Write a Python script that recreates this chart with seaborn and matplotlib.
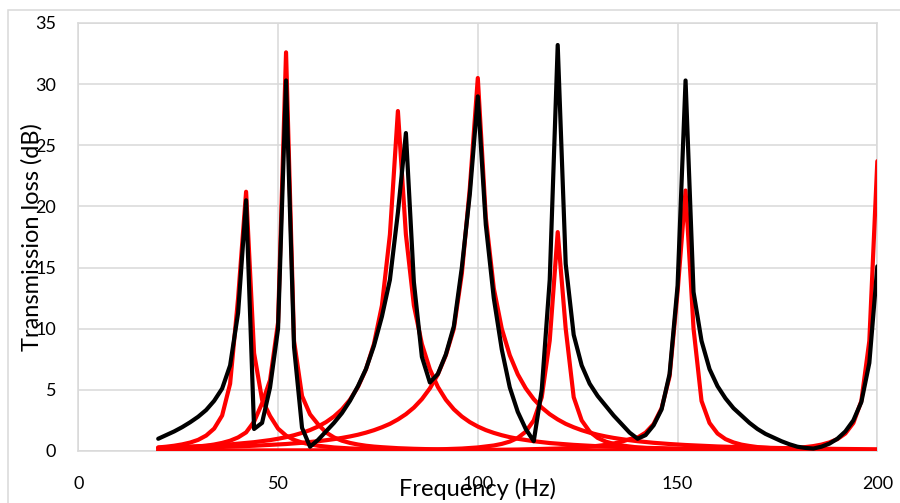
import matplotlib
matplotlib.use("Agg")
import matplotlib.pyplot as plt
import seaborn as sns
import pandas as pd
from matplotlib.patches import Rectangle

# ---------------- data ----------------
freq = list(range(20, 201, 2))

tl_black = [1.0, 1.3, 1.6, 1.95, 2.35, 2.8, 3.35, 4.1, 5.1, 7.0, 11.3, 20.5,
            1.8, 2.3, 5.2, 10.0, 30.3, 8.5, 1.9, 0.35, 0.9, 1.6, 2.3, 3.1,
            4.1, 5.3, 6.7, 8.6, 11.0, 14.0, 19.5, 26.0, 13.8, 7.7, 5.6, 6.3,
            7.9, 10.2, 15.0, 21.0, 29.0, 18.5, 12.5, 8.3, 5.2, 3.2, 1.8, 0.8,
            5.0, 14.0, 33.2, 15.3, 9.5, 7.0, 5.5, 4.5, 3.7, 2.9, 2.2, 1.5,
            1.0, 1.3, 2.1, 3.4, 6.3, 13.5, 30.3, 13.0, 9.0, 6.7, 5.3, 4.3,
            3.5, 2.9, 2.3, 1.8, 1.4, 1.1, 0.8, 0.55, 0.35, 0.25, 0.2, 0.35,
            0.6, 1.0, 1.6, 2.5, 4.0, 7.2, 15.1]

f_r1 = [20, 22, 24, 26, 28, 30, 32, 34, 36, 38, 40, 42, 44, 46, 48, 50, 52, 54,
        56, 58, 60, 64, 68, 74, 80, 90, 100, 120, 150, 200]
tl_r1 = [0.29, 0.35, 0.43, 0.54, 0.69, 0.91, 1.26, 1.83, 2.9, 5.5, 12.5, 21.2,
         8.0, 4.2, 2.86, 1.83, 1.26, 0.91, 0.69, 0.54, 0.43, 0.29, 0.21, 0.14,
         0.10, 0.06, 0.04, 0.02, 0.01, 0.01]

f_r2 = [20, 24, 28, 32, 34, 36, 38, 40, 42, 44, 46, 48, 50, 52, 54, 56, 58, 60,
        62, 64, 66, 68, 70, 72, 74, 76, 80, 84, 90, 100, 110, 120, 140, 160, 200]
tl_r2 = [0.18, 0.23, 0.31, 0.43, 0.53, 0.66, 0.84, 1.11, 1.52, 2.4, 3.9, 5.8,
         10.5, 32.6, 9.0, 4.5, 3.0, 2.19, 1.52, 1.11, 0.84, 0.66, 0.53, 0.43,
         0.36, 0.31, 0.23, 0.18, 0.13, 0.08, 0.05, 0.04, 0.02, 0.02, 0.01]

f_r3 = [20, 26, 32, 38, 44, 48, 50, 52, 54, 56, 58, 60, 62, 64, 66, 68, 70, 72,
        74, 76, 78, 80, 82, 84, 86, 88, 90, 92, 94, 96, 98, 100, 102, 104, 106,
        108, 110, 114, 118, 124, 130, 140, 150, 160, 170, 180, 190, 200]
tl_r3 = [0.27, 0.335, 0.42, 0.54, 0.72, 0.89, 1.0, 1.13, 1.29, 1.48, 1.71, 2.0,
         2.36, 2.82, 3.41, 4.19, 5.24, 6.68, 8.75, 11.9, 17.7, 27.8, 17.7, 11.9,
         8.75, 6.68, 5.24, 4.19, 3.41, 2.82, 2.36, 2.0, 1.71, 1.48, 1.29, 1.13,
         1.0, 0.80, 0.65, 0.50, 0.39, 0.27, 0.20, 0.156, 0.124, 0.10, 0.083, 0.07]

f_r4 = [20, 28, 36, 44, 52, 56, 60, 62, 64, 66, 68, 70, 72, 74, 76, 78, 80, 82,
        84, 86, 88, 90, 92, 94, 96, 98, 100, 102, 104, 106, 108, 110, 112, 114,
        116, 118, 120, 122, 124, 126, 128, 130, 132, 134, 136, 138, 140, 144,
        148, 152, 156, 160, 168, 176, 190, 200]
tl_r4 = [0.21, 0.26, 0.33, 0.43, 0.57, 0.67, 0.80, 0.88, 0.97, 1.07, 1.19, 1.33,
         1.50, 1.70, 1.94, 2.22, 2.58, 3.01, 3.55, 4.24, 5.12, 6.27, 7.83, 10.0,
         14.5, 21.5, 30.5, 19.1, 13.3, 10.0, 7.83, 6.27, 5.12, 4.24, 3.55, 3.01,
         2.58, 2.22, 1.94, 1.70, 1.50, 1.33, 1.19, 1.07, 0.97, 0.88, 0.80, 0.67,
         0.57, 0.49, 0.43, 0.37, 0.29, 0.24, 0.17, 0.14]

f_r5 = [20, 60, 80, 90, 96, 100, 104, 106, 108, 110, 112, 114, 116, 118, 120,
        122, 124, 126, 128, 130, 132, 134, 136, 140, 144, 150, 160, 180, 200]
tl_r5 = [0.01, 0.03, 0.08, 0.13, 0.20, 0.29, 0.45, 0.58, 0.77, 1.07, 1.58, 2.5,
         4.39, 9.03, 17.9, 10.0, 4.4, 2.5, 1.58, 1.07, 0.77, 0.58, 0.45, 0.29,
         0.20, 0.13, 0.08, 0.03, 0.02]

f_r6 = [20, 60, 100, 110, 120, 124, 128, 130, 132, 134, 136, 138, 140, 142, 144,
        146, 148, 150, 152, 154, 156, 158, 160, 162, 164, 166, 168, 170, 174,
        178, 184, 190, 200]
tl_r6 = [0.01, 0.03, 0.08, 0.12, 0.20, 0.26, 0.35, 0.42, 0.50, 0.61, 0.76, 0.97,
         1.1, 1.5, 2.2, 3.5, 6.1, 13.0, 21.3, 10.0, 4.09, 2.29, 1.43, 0.97,
         0.70, 0.52, 0.41, 0.32, 0.22, 0.16, 0.10, 0.075, 0.05]

f_r7 = [20, 100, 140, 160, 170, 176, 180, 182, 184, 186, 188, 190, 192, 194,
        196, 198, 200]
tl_r7 = [0.0, 0.01, 0.03, 0.07, 0.12, 0.18, 0.26, 0.32, 0.40, 0.52, 0.70, 0.97,
         1.43, 2.29, 4.09, 9.0, 23.7]

x_ticks = [0, 50, 100, 150, 200]
y_ticks = [0, 5, 10, 15, 20, 25, 30, 35]
x_label = "Frequency (Hz)"
y_label = "Transmission loss (dB)"

red_curves = [(f_r1, tl_r1), (f_r2, tl_r2), (f_r3, tl_r3), (f_r4, tl_r4),
              (f_r5, tl_r5), (f_r6, tl_r6), (f_r7, tl_r7)]

# ---------------- plot ----------------
sns.set_theme(style="white")
plt.rcParams["font.family"] = ["Lato", "DejaVu Sans"]

fig = plt.figure(figsize=(9, 5.03), dpi=100)
ax = fig.add_axes([0.087, 0.1034, 0.8878, 0.8509])

grid_c = "#d9d9d9"
line_kw = dict(linewidth=3.0, solid_joinstyle="round", solid_capstyle="round")

for fr, tl in red_curves:
    df = pd.DataFrame({"f": fr, "tl": tl})
    sns.lineplot(data=df, x="f", y="tl", ax=ax, color="#ff0000",
                 estimator=None, **line_kw)

dfb = pd.DataFrame({"f": freq, "tl": tl_black})
sns.lineplot(data=dfb, x="f", y="tl", ax=ax, color="#000000",
             estimator=None, **line_kw)

ax.set_xlim(0, 200)
ax.set_ylim(0, 35)
ax.set_xticks(x_ticks)
ax.set_yticks(y_ticks)
ax.grid(True, color=grid_c, linewidth=1.1)
ax.set_axisbelow(True)
for s in ax.spines.values():
    s.set_color(grid_c)
    s.set_linewidth(1.1)
    s.set_zorder(0.5)

ax.tick_params(axis="both", length=0, labelsize=13, colors="#000000")
ax.tick_params(axis="y", pad=16.0)
ax.tick_params(axis="x", pad=18.0)

ax.set_xlabel(x_label, fontsize=17, color="#000000")
ax.set_ylabel(y_label, fontsize=17, color="#000000")
ax.xaxis.set_label_coords(0.5, -0.064)
ax.yaxis.set_label_coords(-0.045, 0.5)

fig.add_artist(Rectangle((7.5 / 900, -0.1), 1.2, 1 - 9.5 / 503 + 0.1,
                         transform=fig.transFigure, fill=False,
                         edgecolor=grid_c, linewidth=1.1))

fig.savefig("out.png", dpi=100)
